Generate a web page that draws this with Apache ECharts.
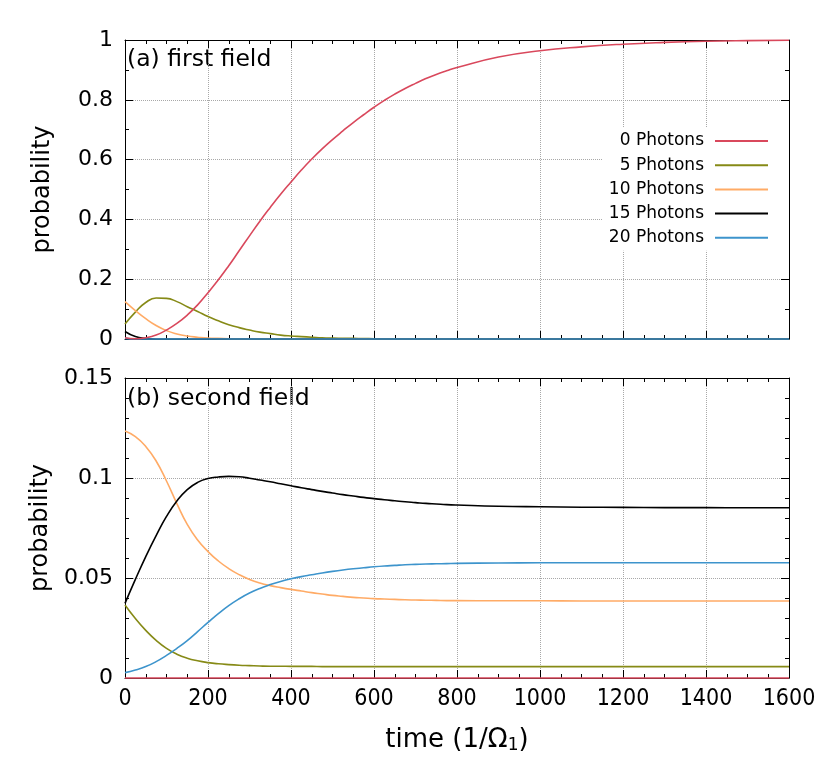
<!DOCTYPE html>
<html>
<head>
    <meta charset="UTF-8">
    <title>probability vs time</title>
    <script src="https://cdn.jsdelivr.net/npm/echarts@6.0.0/dist/echarts.min.js"></script>
    <style>
        html, body {margin: 0; padding: 0; background: #fff;}
        #chart {width: 830px; height: 760px;}
    </style>
</head>
<body>
    <div id="chart"></div>

    <script>
        // time samples (1/Omega_1): every 25 up to 800, every 100 after
        const times = [0, 25, 50, 75, 100, 125, 150, 175, 200, 225, 250, 275, 300, 325, 350, 375, 400, 425, 450, 475, 500,
                       525, 550, 575, 600, 625, 650, 675, 700, 725, 750, 775, 800,
                       900, 1000, 1100, 1200, 1300, 1400, 1500, 1600];

        const names = ['0 Photons', '5 Photons', '10 Photons', '15 Photons', '20 Photons'];

        // (a) first field
        const first0  = [0.004, 0.001, 0.004, 0.013, 0.03, 0.052, 0.08, 0.114, 0.155, 0.198, 0.245, 0.295, 0.345, 0.394, 0.44, 0.484, 0.525, 0.565, 0.602, 0.636, 0.667,
                         0.696, 0.724, 0.75, 0.775, 0.798, 0.819, 0.838, 0.855, 0.871, 0.885, 0.897, 0.908,
                         0.943, 0.964, 0.977, 0.986, 0.992, 0.996, 0.998, 0.999];
        const first5  = [0.05, 0.09, 0.122, 0.137, 0.136, 0.125, 0.108, 0.092, 0.075, 0.061, 0.048, 0.038, 0.03, 0.023, 0.018, 0.013, 0.01, 0.008, 0.006, 0.004, 0.003,
                         0.0025, 0.002, 0.0015, 0.001, 0.0008, 0.0005, 0.0003, 0, 0, 0, 0, 0,
                         0, 0, 0, 0, 0, 0, 0, 0];
        const first10 = [0.125, 0.095, 0.068, 0.045, 0.028, 0.017, 0.01, 0.006, 0.003, 0.002, 0.001, 0, 0, 0, 0, 0, 0, 0, 0, 0, 0,
                         0, 0, 0, 0, 0, 0, 0, 0, 0, 0, 0, 0,
                         0, 0, 0, 0, 0, 0, 0, 0];
        const first15 = [0.025, 0.008, 0.002, 0, 0, 0, 0, 0, 0, 0, 0, 0, 0, 0, 0, 0, 0, 0, 0, 0, 0,
                         0, 0, 0, 0, 0, 0, 0, 0, 0, 0, 0, 0,
                         0, 0, 0, 0, 0, 0, 0, 0];
        const first20 = [0.002, 0, 0, 0, 0, 0, 0, 0, 0, 0, 0, 0, 0, 0, 0, 0, 0, 0, 0, 0, 0,
                         0, 0, 0, 0, 0, 0, 0, 0, 0, 0, 0, 0,
                         0, 0, 0, 0, 0, 0, 0, 0];

        // (b) second field
        const second0  = [0, 0, 0, 0, 0, 0, 0, 0, 0, 0, 0, 0, 0, 0, 0, 0, 0, 0, 0, 0, 0,
                          0, 0, 0, 0, 0, 0, 0, 0, 0, 0, 0, 0,
                          0, 0, 0, 0, 0, 0, 0, 0];
        const second5  = [0.0365, 0.0297, 0.0238, 0.0188, 0.0148, 0.0119, 0.0099, 0.0086, 0.0077, 0.0071, 0.0067, 0.0064, 0.0062, 0.006, 0.0059, 0.0059, 0.0058, 0.0058, 0.0058, 0.0057, 0.0057,
                          0.0057, 0.0057, 0.0057, 0.0057, 0.0057, 0.0057, 0.0057, 0.0057, 0.0057, 0.0057, 0.0057, 0.0057,
                          0.0057, 0.0057, 0.0057, 0.0057, 0.0057, 0.0057, 0.0057, 0.0057];
        const second10 = [0.1235, 0.1207, 0.1158, 0.1085, 0.0985, 0.0872, 0.0768, 0.069, 0.0632, 0.0585, 0.0547, 0.0517, 0.0493, 0.0475, 0.0462, 0.0452, 0.0443, 0.0435, 0.0427, 0.042, 0.0413,
                          0.0408, 0.0403, 0.04, 0.0397, 0.0395, 0.0393, 0.0391, 0.039, 0.0389, 0.0388, 0.0387, 0.0387,
                          0.0386, 0.0386, 0.0385, 0.0385, 0.0385, 0.0385, 0.0385, 0.0385];
        const second15 = [0.0373, 0.0493, 0.0607, 0.0712, 0.0808, 0.0885, 0.0942, 0.0978, 0.0997, 0.1005, 0.1008, 0.1006, 0.0999, 0.099, 0.0981, 0.0971, 0.0961, 0.0951, 0.0942, 0.0933, 0.0925,
                          0.0917, 0.091, 0.0903, 0.0897, 0.0891, 0.0886, 0.0881, 0.0877, 0.0873, 0.087, 0.0867, 0.0865,
                          0.0859, 0.0856, 0.0854, 0.0853, 0.0852, 0.0852, 0.0851, 0.0851];
        const second20 = [0.0027, 0.004, 0.0057, 0.0082, 0.0113, 0.0148, 0.0187, 0.0232, 0.0278, 0.0322, 0.0362, 0.0396, 0.0425, 0.0448, 0.0467, 0.0483, 0.0496, 0.0507, 0.0516, 0.0525, 0.0533,
                          0.054, 0.0546, 0.0551, 0.0556, 0.056, 0.0563, 0.0566, 0.0568, 0.057, 0.0571, 0.0572, 0.0573,
                          0.0575, 0.0576, 0.0576, 0.0576, 0.0576, 0.0576, 0.0576, 0.0576];

        const colors = ['#d9485c', '#868a16', '#ffab66', '#000000', '#3d94cc'];

        const FONT = 'DejaVu Sans';
        const gridLine = { show: true, lineStyle: { color: '#a8a8a8', type: 'dotted', width: 1 } };

        const pairs = vals => vals.map((v, i) => [times[i], v]);

        // x axis: bottom one carries labels/grid, top one only draws the frame + ticks
        const xAxisOf = (gridIndex, position, labels) => ({
            type: 'value', gridIndex: gridIndex, position: position,
            min: 0, max: 1600, interval: 200,
            axisLine: { show: true, onZero: false, lineStyle: { color: '#000', width: 1 } },
            axisTick: { show: true, inside: true, length: 8, lineStyle: { color: '#000' } },
            minorTick: { show: true, splitNumber: 4, length: 4, lineStyle: { color: '#000' } },
            axisLabel: { show: labels, margin: 10, color: '#000', fontFamily: 'DejaVu Sans Condensed', fontSize: 23,
                         formatter: v => String(v) },
            splitLine: position === 'bottom' ? gridLine : { show: false }
        });

        const yAxisOf = (gridIndex, position, max, interval, minorSplit) => ({
            type: 'value', gridIndex: gridIndex, position: position,
            min: 0, max: max, interval: interval,
            name: position === 'left' ? 'probability' : '',
            nameLocation: 'middle', nameGap: 70,
            nameTextStyle: { color: '#000', fontFamily: FONT, fontSize: 24 },
            axisLine: { show: true, onZero: false, lineStyle: { color: '#000', width: 1 } },
            axisTick: { show: true, inside: true, length: 8, lineStyle: { color: '#000' } },
            minorTick: { show: true, splitNumber: minorSplit, length: 4, lineStyle: { color: '#000' } },
            axisLabel: { show: position === 'left', margin: 12, color: '#000', fontFamily: FONT, fontSize: 22 },
            splitLine: position === 'left' ? gridLine : { show: false }
        });

        const lineSeries = (name, vals, idx, axis) => ({
            name: name, type: 'line',
            xAxisIndex: axis, yAxisIndex: axis,
            data: pairs(vals),
            smooth: 0.5, symbol: 'none', clip: false,
            lineStyle: { width: 1.6, color: colors[idx] },
            itemStyle: { color: colors[idx] },
            z: idx === 0 ? 5 : 4
        });

        const chart = echarts.init(document.getElementById('chart'));

        const xAxisBottom = xAxisOf(1, 'bottom', true);
        xAxisBottom.name = '{t|time (1/Ω}{s|1}{t|)}';
        xAxisBottom.nameLocation = 'middle';
        xAxisBottom.nameGap = 46;
        xAxisBottom.nameTextStyle = {
            color: '#000',
            rich: {
                t: { fontFamily: FONT, fontSize: 26, color: '#000', lineHeight: 32, verticalAlign: 'middle' },
                s: { fontFamily: FONT, fontSize: 17, color: '#000', lineHeight: 32, verticalAlign: 'middle', padding: [12, 0, 0, 0] }
            }
        };

        const firstSets = [first0, first5, first10, first15, first20];
        const secondSets = [second0, second5, second10, second15, second20];

        chart.setOption({
            backgroundColor: '#fff',
            animation: false,
            grid: [
                { left: 125, right: 41, top: 40, height: 299 },
                { left: 125, right: 41, top: 378, height: 300 }
            ],
            xAxis: [
                xAxisOf(0, 'bottom', false),
                xAxisOf(0, 'top', false),
                xAxisBottom,
                xAxisOf(1, 'top', false)
            ],
            yAxis: [
                yAxisOf(0, 'left', 1, 0.2, 2),
                yAxisOf(0, 'right', 1, 0.2, 2),
                yAxisOf(1, 'left', 0.15, 0.05, 5),
                yAxisOf(1, 'right', 0.15, 0.05, 5)
            ],
            legend: {
                data: names,
                orient: 'vertical',
                right: 41, top: 128,
                align: 'right',
                icon: 'rect',
                itemWidth: 53, itemHeight: 2,
                itemGap: 4.2,
                padding: [3, 21, 3, 6],
                backgroundColor: '#fff',
                textStyle: { color: '#000', fontFamily: FONT, fontSize: 17, lineHeight: 20, padding: [0, 6, 0, 0] }
            },
            graphic: [
                { type: 'text', left: 127, top: 48, style: { text: '(a) first field', fontFamily: FONT, fontSize: 23.5, fill: '#000' } },
                { type: 'text', left: 127, top: 387, style: { text: '(b) second field', fontFamily: FONT, fontSize: 23.5, fill: '#000' } }
            ],
            series: [
                ...firstSets.map((vals, i) => lineSeries(names[i], vals, i, 0)),
                ...secondSets.map((vals, i) => lineSeries(names[i], vals, i, 2))
            ]
        });
    </script>
</body>
</html>
